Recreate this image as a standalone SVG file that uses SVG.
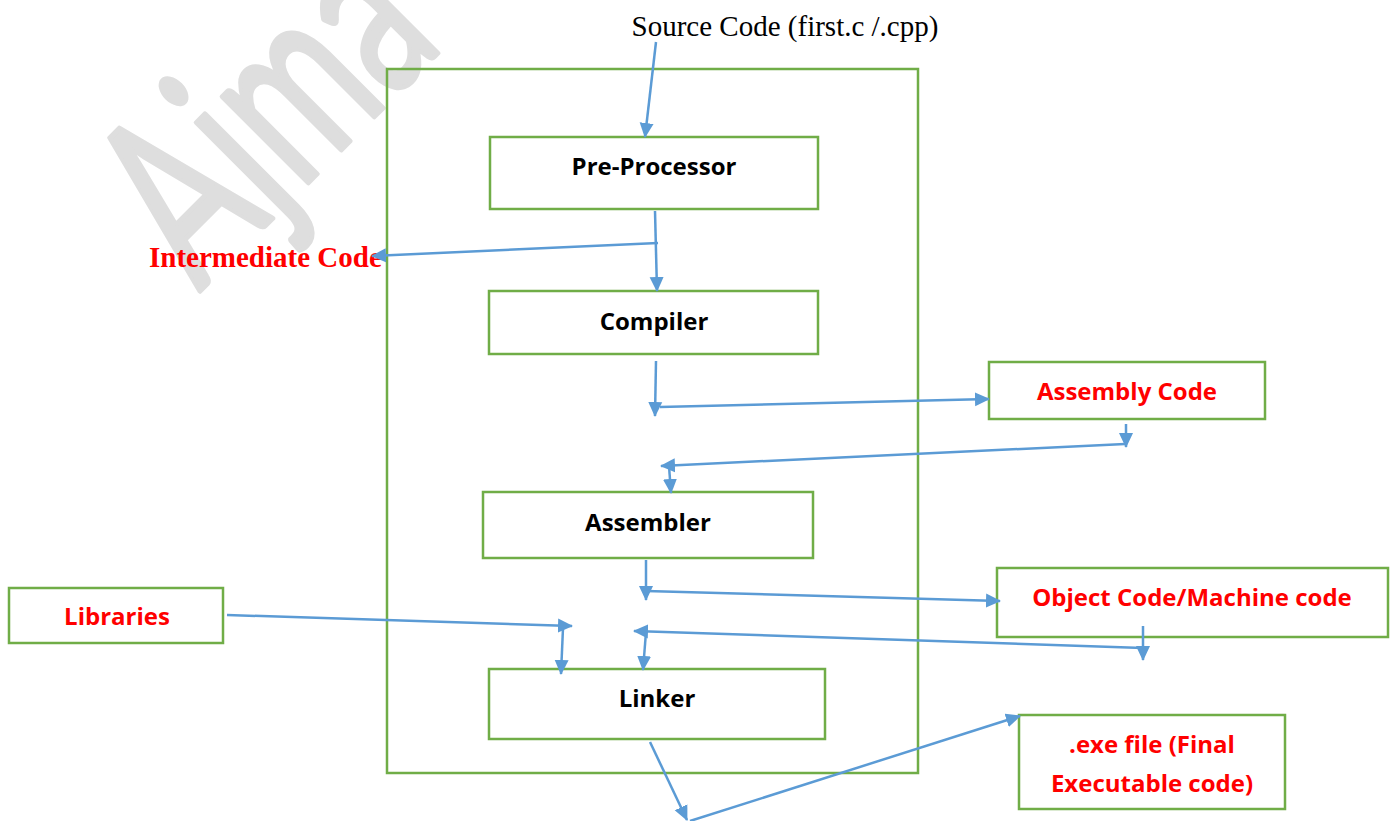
<svg xmlns="http://www.w3.org/2000/svg" width="1395" height="821" viewBox="0 0 1395 821">
  <style>
    .box { fill: #ffffff; stroke: #70ad47; stroke-width: 2.5; }
    .frame { fill: none; stroke: #70ad47; stroke-width: 2.5; }
    .lbl { font-family: "Open Sans", Lato, sans-serif; font-weight: bold; font-size: 24px; text-anchor: middle; fill: #000000; }
    .red { fill: #ff0000; }
    .serif { font-family: "Liberation Serif", serif; }
    .wire { fill: none; stroke: #5b9bd5; stroke-width: 2.5; }
    .wm { font-family: Lato, "Open Sans", sans-serif; font-size: 240px; fill: #dedede; stroke: #dedede; stroke-width: 5; stroke-linejoin: round; }
  </style>
  <defs>
    <marker id="arrow" markerUnits="userSpaceOnUse" markerWidth="16" markerHeight="16" viewBox="0 0 16 16" refX="14" refY="8" orient="auto">
      <path d="M0,1 L15,8 L0,15 Z" fill="#5b9bd5"/>
    </marker>
  </defs>

  <rect width="1395" height="821" fill="#ffffff"/>

  <!-- watermark -->
  <text class="wm" transform="translate(199,292) rotate(-45) scale(0.65,1)">Ajma</text>

  <!-- outer frame -->
  <rect id="frame" class="frame" x="387" y="69" width="531" height="704"/>

  <g id="source">
    <text class="serif" x="785" y="36" font-size="29" text-anchor="middle">Source Code (first.c /.cpp)</text>
  </g>

  <g id="intermediate">
    <text class="serif red" x="149" y="267" font-size="29" font-weight="bold">Intermediate Code</text>
  </g>

  <g id="preprocessor">
    <rect class="box" x="490" y="137" width="328" height="72"/>
    <text class="lbl" x="654" y="175">Pre-Processor</text>
  </g>

  <g id="compiler">
    <rect class="box" x="489" y="291" width="329" height="63"/>
    <text class="lbl" x="654" y="330">Compiler</text>
  </g>

  <g id="assembly">
    <rect class="box" x="989" y="362" width="276" height="57"/>
    <text class="lbl red" x="1127" y="400">Assembly Code</text>
  </g>

  <g id="assembler">
    <rect class="box" x="483" y="492" width="330" height="66"/>
    <text class="lbl" x="648" y="531">Assembler</text>
  </g>

  <g id="libraries">
    <rect class="box" x="9" y="588" width="214" height="55"/>
    <text class="lbl red" x="117" y="625">Libraries</text>
  </g>

  <g id="object">
    <rect class="box" x="997" y="568" width="391" height="69"/>
    <text class="lbl red" x="1192" y="606">Object Code/Machine code</text>
  </g>

  <g id="linker">
    <rect class="box" x="489" y="669" width="336" height="70"/>
    <text class="lbl" x="657" y="707">Linker</text>
  </g>

  <g id="exe">
    <rect class="box" x="1019" y="715" width="266" height="94"/>
    <text class="lbl red" x="1152" y="753">.exe file (Final</text>
    <text class="lbl red" x="1152" y="792">Executable code)</text>
  </g>

  <g id="connectors">
    <line class="wire" x1="656" y1="42" x2="645" y2="137" marker-end="url(#arrow)"/>
    <line class="wire" x1="655" y1="211" x2="657" y2="291" marker-end="url(#arrow)"/>
    <line class="wire" x1="658" y1="243" x2="372" y2="256" marker-end="url(#arrow)"/>
    <line class="wire" x1="656" y1="361" x2="655" y2="416" marker-end="url(#arrow)"/>
    <line class="wire" x1="660" y1="407" x2="989" y2="399" marker-end="url(#arrow)"/>
    <line class="wire" x1="1126" y1="424" x2="1126" y2="447" marker-end="url(#arrow)"/>
    <line class="wire" x1="1125" y1="444" x2="661" y2="466" marker-end="url(#arrow)"/>
    <line class="wire" x1="669" y1="466" x2="671" y2="493" marker-end="url(#arrow)"/>
    <line class="wire" x1="646" y1="560" x2="646" y2="600" marker-end="url(#arrow)"/>
    <line class="wire" x1="646" y1="591" x2="1000" y2="601" marker-end="url(#arrow)"/>
    <line class="wire" x1="1143" y1="626" x2="1143" y2="660" marker-end="url(#arrow)"/>
    <line class="wire" x1="1143" y1="648" x2="634" y2="631" marker-end="url(#arrow)"/>
    <line class="wire" x1="646" y1="632" x2="643" y2="670" marker-end="url(#arrow)"/>
    <line class="wire" x1="227" y1="615" x2="572" y2="626" marker-end="url(#arrow)"/>
    <line class="wire" x1="563" y1="628" x2="561" y2="674" marker-end="url(#arrow)"/>
    <line class="wire" x1="650" y1="742" x2="687" y2="820" marker-end="url(#arrow)"/>
    <line class="wire" x1="690" y1="821" x2="1020" y2="716" marker-end="url(#arrow)"/>
  </g>
</svg>
